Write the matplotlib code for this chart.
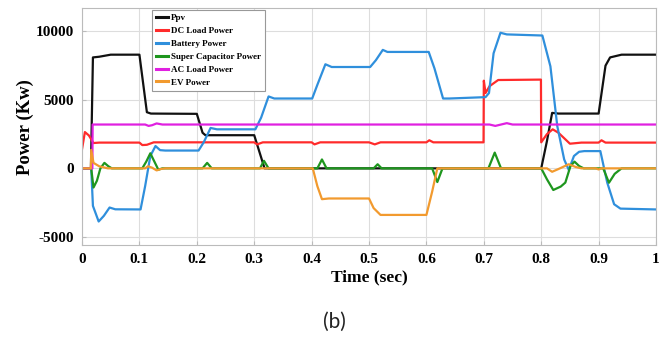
import matplotlib
matplotlib.use("Agg")
from matplotlib import pyplot as plt

# breakpoints (time in s, power in kW)
t_ppv = [0, 0.0155, 0.019, 0.03, 0.05, 0.1, 0.113, 0.12, 0.2, 0.21, 0.215, 0.3, 0.318,
         0.8, 0.81, 0.819, 0.83, 0.9, 0.912, 0.92, 0.94, 1.0]
ppv = [0, 0, 8100, 8150, 8300, 8300, 4100, 4000, 3980, 2600, 2420, 2420, 0,
       0, 2000, 4050, 4000, 4000, 7500, 8100, 8300, 8300]

t_dc = [0, 0.005, 0.012, 0.02, 0.03, 0.1, 0.105, 0.113, 0.125, 0.3, 0.305, 0.315,
        0.4, 0.405, 0.415, 0.5, 0.51, 0.52, 0.6, 0.605, 0.612, 0.6995, 0.7, 0.703,
        0.71, 0.725, 0.7995, 0.8, 0.81, 0.82, 0.83, 0.85, 0.87, 0.9, 0.905, 0.912, 1.0]
dc = [1400, 2650, 2400, 1850, 1880, 1880, 1700, 1720, 1900, 1900, 1750, 1900,
      1900, 1750, 1900, 1900, 1750, 1900, 1900, 2050, 1900, 1900, 6400, 5500,
      6000, 6450, 6480, 1900, 2500, 2850, 2600, 1800, 1880, 1880, 2050, 1880, 1880]

t_bat = [0, 0.016, 0.019, 0.029, 0.038, 0.048, 0.058, 0.102, 0.11, 0.119, 0.128, 0.136,
         0.145, 0.203, 0.212, 0.224, 0.235, 0.302, 0.312, 0.325, 0.335, 0.401, 0.41,
         0.424, 0.435, 0.502, 0.512, 0.524, 0.532, 0.604, 0.614, 0.629, 0.64, 0.703,
         0.709, 0.717, 0.729, 0.74, 0.802, 0.816, 0.828, 0.84, 0.848, 0.857, 0.866,
         0.875, 0.903, 0.915, 0.927, 0.938, 1.0]
bat = [0, 0, -2740, -3880, -3470, -2860, -2990, -3000, -1290, 900, 1630, 1330,
       1300, 1300, 1900, 2950, 2850, 2850, 3700, 5250, 5100, 5100, 6100,
       7600, 7400, 7400, 7900, 8650, 8500, 8500, 7300, 5100, 5100, 5200,
       5500, 8400, 9900, 9780, 9700, 7450, 3080, 650, -120, 900, 1210,
       1260, 1260, -1040, -2620, -2940, -3000]

t_sc = [0, 0.016, 0.02, 0.026, 0.032, 0.039, 0.046, 0.052, 0.105, 0.112, 0.119, 0.126,
        0.133, 0.14, 0.21, 0.218, 0.226, 0.31, 0.317, 0.325, 0.41, 0.418, 0.426, 0.508,
        0.515, 0.522, 0.61, 0.619, 0.628, 0.708, 0.719, 0.73, 0.8, 0.81, 0.821, 0.834,
        0.842, 0.851, 0.858, 0.866, 0.874, 0.908, 0.918, 0.928, 0.94, 1.0]
sc = [0, 0, -1400, -900, 0, 400, 150, 0, 0, 500, 1100, 500,
      -100, 0, 0, 400, 0, 0, 550, 0, 0, 650, 0, 0,
      300, 0, 0, -1000, 0, 0, 1150, 0, 0, -800, -1580, -1330,
      -1040, 170, 490, 170, 0, 0, -1050, -400, 0, 0]

t_ac = [0, 0.018, 0.0185, 0.11, 0.116, 0.122, 0.13, 0.14, 0.71, 0.72, 0.73, 0.74, 0.75, 1.0]
ac = [0, 0, 3200, 3200, 3100, 3150, 3280, 3200, 3200, 3100, 3200, 3300, 3200, 3200]

t_ev = [0, 0.0155, 0.016, 0.02, 0.03, 0.045, 0.11, 0.115, 0.122, 0.13, 0.137, 0.145,
        0.402, 0.41, 0.418, 0.43, 0.5, 0.508, 0.52, 0.6, 0.61, 0.619, 0.81, 0.819,
        0.83, 0.848, 0.86, 0.87, 0.895, 0.9, 0.905, 1.0]
ev = [0, 0, 1350, 400, 150, 0, 0, 150, 50, -150, -50, 0,
      0, -1300, -2250, -2200, -2200, -2900, -3400, -3400, -1700, 0, 0, -250,
      -50, 300, 100, 0, 0, -80, 0, 0]

series = [
    ("Ppv", t_ppv, ppv, "#111111"),
    ("DC Load Power", t_dc, dc, "#ff2b2b"),
    ("Battery Power", t_bat, bat, "#2f8fdc"),
    ("Super Capacitor Power", t_sc, sc, "#1e961e"),
    ("AC Load Power", t_ac, ac, "#e020e0"),
    ("EV Power", t_ev, ev, "#f29a2e"),
]

plt.rcParams["axes.unicode_minus"] = False
serif = "Liberation Serif"
fig = plt.figure(figsize=(6.69, 3.38), dpi=100)
ax = fig.add_axes([0.1226, 0.275, 0.858, 0.701])

for label, t, p, c in series:
    ax.plot(t, p, color=c, linewidth=1.6, label=label)

ax.set_xlim(0, 1)
ax.set_ylim(-5600, 11700)
ax.set_xticks([i / 10 for i in range(11)])
ax.set_xticklabels(["0", "0.1", "0.2", "0.3", "0.4", "0.5", "0.6", "0.7", "0.8", "0.9", "1"])
ax.set_yticks([-5000, 0, 5000, 10000])
ax.grid(True, color="#dddddd", linewidth=0.8)
for s in ax.spines.values():
    s.set_color("#bbbbbb")
ax.tick_params(direction="in", length=3, color="#bbbbbb", pad=6)
for lb in ax.get_xticklabels() + ax.get_yticklabels():
    lb.set_fontfamily(serif)
    lb.set_fontweight("bold")
    lb.set_fontsize(11)

ax.set_xlabel("Time (sec)", fontfamily=serif, fontweight="bold", fontsize=12.5, labelpad=2)
ax.set_ylabel("Power (Kw)", fontfamily=serif, fontweight="bold", fontsize=13.5, labelpad=1)

leg = ax.legend(loc="upper left", bbox_to_anchor=(0.122, 0.992), fancybox=False,
                prop={"family": serif, "weight": "bold", "size": 6.5},
                handlelength=1.3, handletextpad=0.3, labelspacing=0.5,
                borderpad=0.45, framealpha=1, borderaxespad=0)
leg.get_frame().set_edgecolor("#999999")
leg.get_frame().set_linewidth(0.8)
for h in leg.get_lines():
    h.set_linewidth(2.2)

fig.text(0.5, 1 - 322 / 338, "(b)", ha="center", va="center", fontsize=15,
         fontfamily="Lato", color="#222222")

fig.savefig("out.png", dpi=100)
